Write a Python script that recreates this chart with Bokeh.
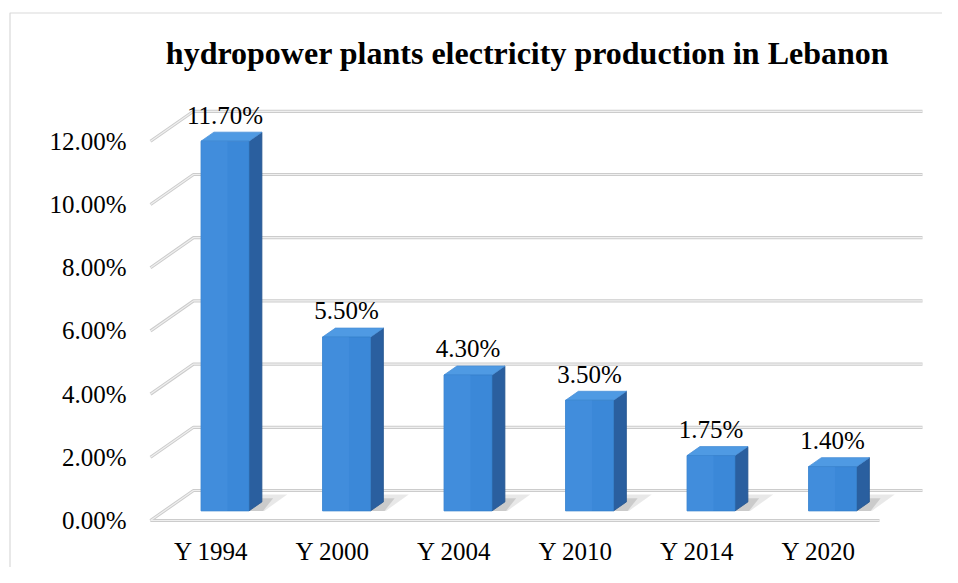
from bokeh.plotting import figure
from bokeh.models import Range1d, ColumnDataSource
from bokeh.core.properties import value
from bokeh.embed import file_html
from bokeh.resources import INLINE

# ---------------- data ----------------
categories = ["Y 1994", "Y 2000", "Y 2004", "Y 2010", "Y 2014", "Y 2020"]
shares = [11.70, 5.50, 4.30, 3.50, 1.75, 1.40]
value_labels = ["11.70%", "5.50%", "4.30%", "3.50%", "1.75%", "1.40%"]
y_ticks = [0, 2, 4, 6, 8, 10, 12]
y_tick_labels = ["0.00%", "2.00%", "4.00%", "6.00%", "8.00%", "10.00%", "12.00%"]
title_text = "hydropower plants electricity production in Lebanon"

# ---------------- geometry (3D look) ----------------
DX, DY = 0.354, 0.95        # depth offset of back wall (x in categories, y in %)
HALF = 0.1975               # half width of bar front face
D0, D1 = 0.32, 0.62         # bar depth start / end (fraction of depth)
SX, SY = 121.5, 31.6        # px per category / px per %
X0PX, Y0PX = 150.0, 520.0   # page pixel of (x=-0.5, y=0) front corner
ORG = 0                     # page offset of the canvas
W, H = 942, 567

def px_x(px):
    return -0.5 + (px - X0PX) / SX

def px_y(py):
    return (Y0PX - py) / SY

FONT = value("'Liberation Serif', 'Times New Roman', serif")

p = figure(width=W, height=H,
           x_range=Range1d(px_x(ORG), px_x(ORG + W)),
           y_range=Range1d(px_y(ORG + H), px_y(ORG)),
           x_axis_location=None, y_axis_location=None,
           output_backend="svg", toolbar_location=None, min_border=0)
p.grid.visible = False
p.outline_line_color = None
p.background_fill_color = "white"
p.border_fill_color = "white"

n = len(categories)
left, right = -0.5, n - 0.5

# chart border (left + top visible)
p.line([px_x(9.5), px_x(9.5), px_x(1000)], [px_y(600), px_y(12.5), px_y(12.5)],
       line_color="#d9d9d9", line_width=1.2)

# gridlines: left wall diagonal + back wall
gx, gy = [], []
for v in y_ticks:
    if v == 0:
        gx.append([right, left, left + DX, right + DX])
        gy.append([0, 0, DY, DY])
    else:
        gx.append([left, left + DX, right + DX])
        gy.append([v, v + DY, v + DY])
p.multi_line(gx, gy, line_color="#cccccc", line_width=3.2)
p.multi_line(gx, gy, line_color="#efefef", line_width=1.2)

# shadows, side faces, top faces, front faces
sh_x, sh_y, sh2_x, sh2_y = [], [], [], []
side_x, side_y, top_x, top_y, fr_l, fr_r, fr_b, fr_t = ([] for _ in range(8))
for i, v in enumerate(shares):
    xl, xr = i - HALF, i + HALF
    sh_x.append([xl + D1 * DX, xr + D1 * DX + 0.02, xr + (D1 + 0.25) * DX + 0.12,
                 xl + (D1 + 0.25) * DX + 0.12])
    sh_y.append([D0 * DY, D0 * DY, (D1 + 0.25) * DY, (D1 + 0.25) * DY])
    sh2_x.append([xl + D1 * DX, xr + D1 * DX + 0.01, xr + (D1 + 0.12) * DX + 0.05,
                  xl + (D1 + 0.12) * DX + 0.05])
    sh2_y.append([D0 * DY, D0 * DY, (D1 + 0.12) * DY, (D1 + 0.12) * DY])
    side_x.append([xr + D0 * DX, xr + D1 * DX, xr + D1 * DX, xr + D0 * DX])
    side_y.append([D0 * DY, D1 * DY, v + D1 * DY, v + D0 * DY])
    top_x.append([xl + D0 * DX, xr + D0 * DX, xr + D1 * DX, xl + D1 * DX])
    top_y.append([v + D0 * DY, v + D0 * DY, v + D1 * DY, v + D1 * DY])
    fr_l.append(xl + D0 * DX)
    fr_r.append(xr + D0 * DX)
    fr_b.append(D0 * DY)
    fr_t.append(v + D0 * DY)

p.patches(sh_x, sh_y, fill_color="#000000", fill_alpha=0.09, line_color=None)
p.patches(sh2_x, sh2_y, fill_color="#000000", fill_alpha=0.12, line_color=None)
p.patches(side_x, side_y, fill_color="#2a5f9f", line_color="#27578f", line_width=0.8)
p.patches(top_x, top_y, fill_color="#4f9ae3", line_color="#4a90d8", line_width=0.8)
src = ColumnDataSource(dict(l=fr_l, r=fr_r, b=fr_b, t=fr_t))
p.quad(left="l", right="r", bottom="b", top="t", source=src,
       fill_color="#3b88d8", line_color="#3580cc", line_width=0.8)
band_r = [l + (r - l) * 0.55 for l, r in zip(fr_l, fr_r)]
p.quad(left=fr_l, right=band_r, bottom=fr_b, top=fr_t,
       fill_color="#4a95e2", fill_alpha=0.45, line_color=None)

# data labels
p.text(x=[i + D0 * DX for i in range(n)], y=[v + 1.13 for v in shares], text=value_labels,
       text_font=FONT, text_font_size="25px", text_align="center",
       text_baseline="middle", text_color="#000000")

# y tick labels (front plane)
p.text(x=[px_x(126)] * len(y_ticks), y=y_ticks, text=y_tick_labels,
       text_font=FONT, text_font_size="25px", text_align="right",
       text_baseline="middle", text_color="#000000")

# category labels
p.text(x=list(range(n)), y=[-0.98] * n, text=categories,
       text_font=FONT, text_font_size="25px", text_align="center",
       text_baseline="middle", text_color="#000000")

# title
p.text(x=[px_x(527)], y=[px_y(52)], text=[title_text],
       text_font=FONT, text_font_size="32px", text_font_style="bold",
       text_align="center", text_baseline="middle", text_color="#000000")

open("out.html", "w").write(file_html(p, INLINE))
